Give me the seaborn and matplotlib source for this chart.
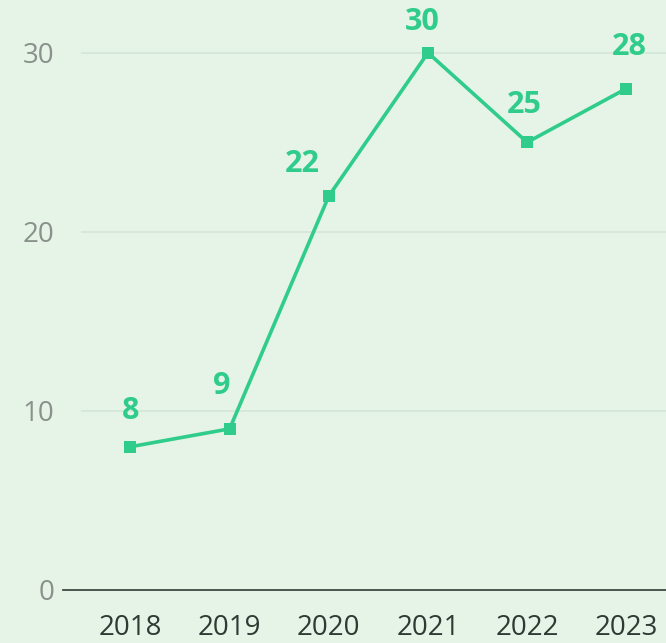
import matplotlib
matplotlib.use("Agg")
import matplotlib.pyplot as plt
import seaborn as sns
import pandas as pd

years = ["2018", "2019", "2020", "2021", "2022", "2023"]
values = [8, 9, 22, 30, 25, 28]
yticks = [0, 10, 20, 30]

df = pd.DataFrame({"year": years, "value": values})

BG = "#E6F4E7"
GREEN = "#2FCC8B"

sns.set_theme(style="white")
plt.rcParams["font.family"] = ["Open Sans", "DejaVu Sans"]

fig = plt.figure(figsize=(6.66, 6.43), dpi=100, facecolor=BG)
ax = fig.add_axes([63 / 666, 1 - 590 / 643, 1 - 63 / 666, 590 / 643 - 8 / 643])
ax.set_facecolor(BG)

# gridlines spanning the category band
ax.hlines(yticks[1:], xmin=-0.5, xmax=5.4, color="#D3E6D6", linewidth=1.2, zorder=0)

sns.lineplot(data=df, x="year", y="value", ax=ax, color=GREEN, linewidth=2.6,
             marker="s", markersize=8.5, markeredgewidth=0, sort=False)

# label offsets (points), styling only
offsets = [(0, 26), (-6, 31), (-19, 23), (-4, 22), (-2, 27), (2, 30)]
for i, (v, off) in enumerate(zip(values, offsets)):
    ax.annotate(str(v), (i, v), xytext=off, textcoords="offset points",
                ha="center", va="center", color=GREEN, fontsize=22,
                fontweight="bold")

ax.set_xlim(-0.68, 5.4)
ax.set_ylim(0, 32.5)
ax.set_yticks(yticks)
ax.set_yticklabels([str(t) for t in yticks])
for s in ["top", "right", "left"]:
    ax.spines[s].set_visible(False)
ax.spines["bottom"].set_color("#3C4A42")
ax.spines["bottom"].set_linewidth(1.3)
ax.tick_params(axis="y", length=0, pad=6, labelsize=20, labelcolor="#8A918C")
ax.tick_params(axis="x", length=0, pad=17, labelsize=20, labelcolor="#2E3A34")
ax.set_xlabel("")
ax.set_ylabel("")

fig.savefig("out.png", dpi=100, facecolor=BG)
